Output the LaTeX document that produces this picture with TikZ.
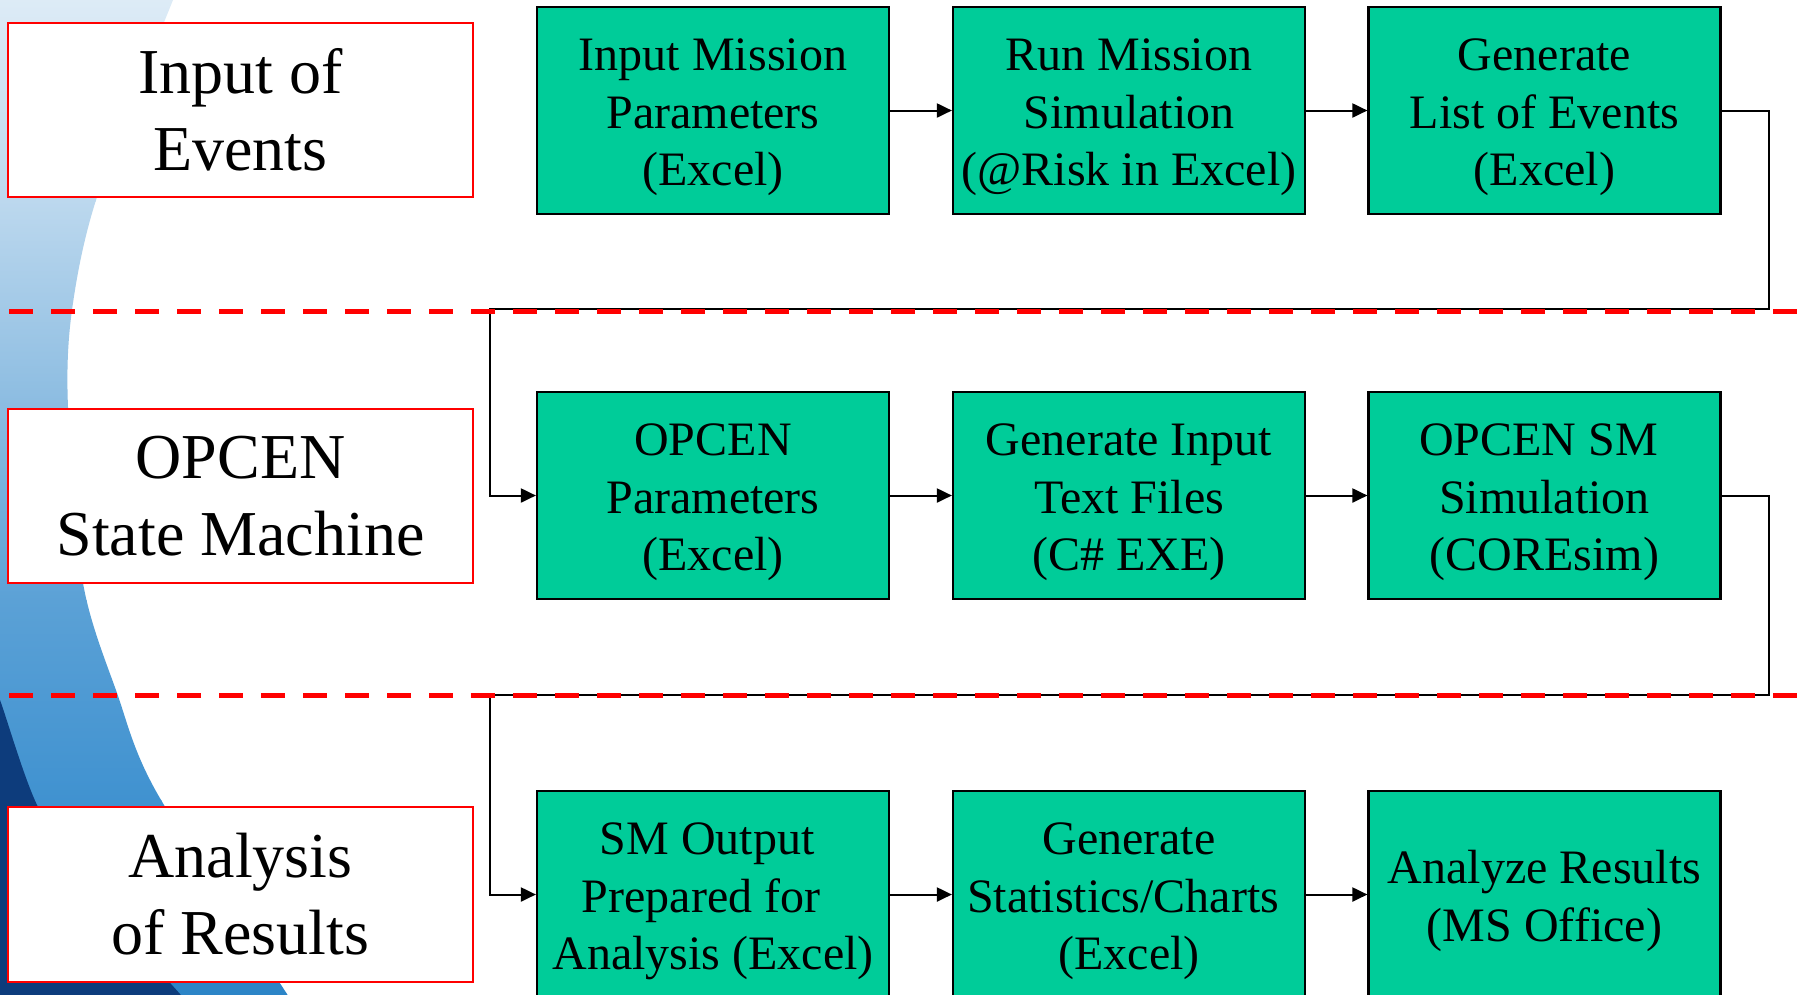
\documentclass[tikz,border=0pt]{standalone}
\usepackage{fontspec}
\setmainfont{Liberation Serif}
\usetikzlibrary{arrows.meta}
\definecolor{boxgreen}{HTML}{00CC99}
\definecolor{bgA}{HTML}{E0EDF7}
\definecolor{bgB}{HTML}{BCD8EE}
\definecolor{bgC}{HTML}{88BAE0}
\definecolor{bgD}{HTML}{5BA1D6}
\definecolor{bgE}{HTML}{4092D0}
\definecolor{bgF}{HTML}{2A83C6}
\definecolor{navyblue}{HTML}{0D3C7C}
\newcommand\firststrut{\rule{0pt}{46pt}}
\newcommand\trailgap[1]{\hbox to #1{}}
\begin{document}
\begin{tikzpicture}[x=1pt,y=-1pt,
  gbox/.style={draw=black, line width=2.2pt, fill=boxgreen, minimum width=352pt,
    minimum height=207pt, inner sep=0pt, align=center,
    font=\fontsize{48}{57.5}\selectfont},
  lbox/.style={draw=red, line width=2pt, fill=white, minimum width=465pt,
    inner sep=0pt, align=center, font=\fontsize{64}{77}\selectfont},
  conn/.style={draw=black, line width=2pt, line join=miter,
    -{Triangle[length=15pt,width=14pt]}},
  sepline/.style={draw=red, line width=5pt, dash pattern=on 24pt off 18pt}]
\useasboundingbox (0,0) rectangle (1806,994);
\clip (0,0) rectangle (1806,994);
% background
\fill[white] (0,0) rectangle (1806,994);
\begin{scope}
  \clip plot[smooth] coordinates {(185,-20) (173,0) (97,197) (72,310) (68,407) (83,583) (117,693) (157,793) (287,994) (300,1015)}
    -- (-10,1015) -- (-10,-20) -- cycle;
  \shade[top color=bgA, bottom color=bgB] (-10,-20) rectangle (330,201);
  \shade[top color=bgB, bottom color=bgC] (-10,200) rectangle (330,421);
  \shade[top color=bgC, bottom color=bgD] (-10,420) rectangle (330,601);
  \shade[top color=bgD, bottom color=bgE] (-10,600) rectangle (330,801);
  \shade[top color=bgE, bottom color=bgF] (-10,800) rectangle (330,1015);
  \fill[navyblue] plot[smooth] coordinates {(-8,685) (0,700) (38,807) (100,903) (180,994) (195,1012)}
    -- (-10,1015) -- cycle;
\end{scope}
% left labels
\node[lbox, minimum height=174pt] (L1) at (240.5,110) {Input of\\Events};
\node[lbox, minimum height=174pt] (L2) at (240.5,496) {OPCEN\\State Machine};
\node[lbox, minimum height=175pt] (L3) at (240.5,894.5) {Analysis\\of Results};
% green boxes
\node[gbox] (a1) at (713,110.5) {\firststrut Input Mission\\Parameters\\(Excel)};
\node[gbox] (a2) at (1129,110.5) {\firststrut Run Mission\\Simulation\\(@Risk in Excel)};
\node[gbox] (a3) at (1544.5,110.5) {\firststrut Generate\\List of Events\\(Excel)};
\node[gbox] (b1) at (713,495.5) {\firststrut OPCEN\\Parameters\\(Excel)};
\node[gbox] (b2) at (1129,495.5) {\firststrut Generate Input\\Text Files\\(C\# EXE)};
\node[gbox] (b3) at (1544.5,495.5) {\firststrut OPCEN SM\trailgap{12pt}\\Simulation\\(COREsim)};
\node[gbox] (c1) at (713,894.5) {\firststrut SM Output\trailgap{12pt}\\Prepared for\trailgap{24pt}\\Analysis (Excel)};
\node[gbox] (c2) at (1129,894.5) {\firststrut Generate\\Statistics/Charts\trailgap{12pt}\\(Excel)};
\node[gbox] (c3) at (1544.5,894.5) {\firststrut Analyze Results\\(MS Office)};
% connectors
\draw[conn] (a1.east) -- (a2.west);
\draw[conn] (a2.east) -- (a3.west);
\draw[conn] (b1.east) -- (b2.west);
\draw[conn] (b2.east) -- (b3.west);
\draw[conn] (c1.east) -- (c2.west);
\draw[conn] (c2.east) -- (c3.west);
\coordinate (r1) at (1769,309);
\coordinate (l1) at (490,309);
\coordinate (r2) at (1769,695);
\coordinate (l2) at (490,695);
\draw[conn] (a3.east) -| (r1) -- (l1) |- (b1.west);
\draw[conn] (b3.east) -| (r2) -- (l2) |- (c1.west);
% separators
\coordinate (s1a) at (9,311);
\coordinate (s1b) at (1815,311);
\coordinate (s2a) at (9,695);
\coordinate (s2b) at (1815,695);
\draw[sepline] (s1a) -- (s1b);
\draw[sepline] (s2a) -- (s2b);
\end{tikzpicture}
\end{document}
